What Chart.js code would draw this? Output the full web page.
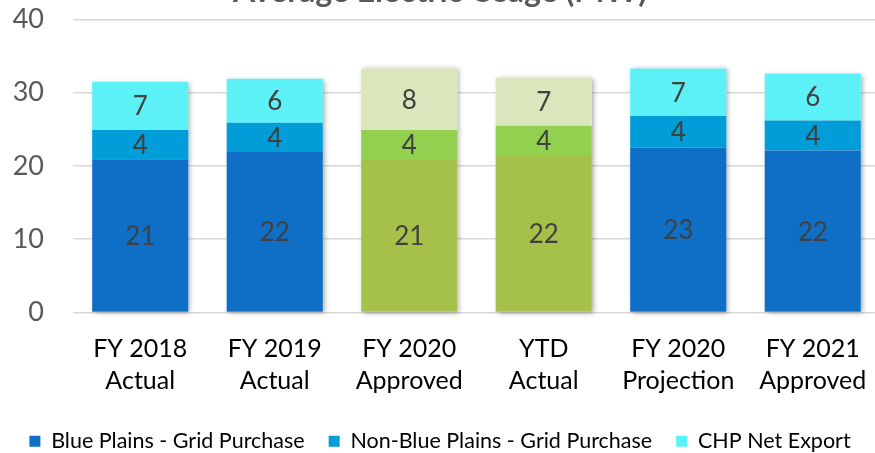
<!DOCTYPE html>
<html>
<head>
<meta charset="utf-8">
<script src="https://cdn.jsdelivr.net/npm/chart.js@4/dist/chart.umd.min.js"></script>
<style>
  html, body { margin: 0; padding: 0; overflow: hidden; background: #fff; }
  #frame { position: relative; width: 880px; height: 453px; overflow: hidden; }
  #holder { position: absolute; left: 0; top: -30px; width: 880px; height: 492px; }
</style>
</head>
<body>
<div id="frame"><div id="holder"><canvas id="usageChart"></canvas></div></div>
<script>
// Chart data
const categories = [
  ['FY 2018', 'Actual'],
  ['FY 2019', 'Actual'],
  ['FY 2020', 'Approved'],
  ['YTD', 'Actual'],
  ['FY 2020', 'Projection'],
  ['FY 2021', 'Approved']
];
const seriesNames = ['Blue Plains - Grid Purchase', 'Non-Blue Plains - Grid Purchase', 'CHP Net Export'];
const bluePlains = [20.9, 21.9, 20.8, 21.5, 22.5, 22.1];
const nonBluePlains = [4.0, 4.0, 4.1, 4.0, 4.3, 4.1];
const chpExport = [6.6, 6.0, 8.4, 6.5, 6.5, 6.4];
const yTicks = [0, 10, 20, 30, 40];

// Colours: blue set for most bars, green set for the budget/YTD bars
const blueSet = ['#0F6FC6', '#009DD9', '#5CF1F6'];
const greenSet = ['#A6C14A', '#92D050', '#DAE6BC'];
const greenBars = [2, 3];

const fontFamily = "'Lato', 'DejaVu Sans', sans-serif";

function barColors(level) {
  return categories.map((c, i) => greenBars.includes(i) ? greenSet[level] : blueSet[level]);
}

// soft shadow behind each whole stack
const stackShadow = {
  id: 'stackShadow',
  beforeDatasetsDraw(chart) {
    const ctx = chart.ctx;
    const bottom = chart.getDatasetMeta(0).data;
    const top = chart.getDatasetMeta(2).data;
    ctx.save();
    ctx.shadowColor = 'rgba(0,0,0,0.35)';
    ctx.shadowBlur = 5;
    ctx.shadowOffsetX = 2;
    ctx.shadowOffsetY = 1;
    ctx.fillStyle = '#ffffff';
    top.forEach((bar, i) => {
      const w = bar.width;
      const y0 = bottom[i].base;
      ctx.fillRect(bar.x - w / 2, bar.y, w, y0 - bar.y);
    });
    ctx.restore();
  }
};

// value labels centred in each segment
const segmentLabels = {
  id: 'segmentLabels',
  afterDatasetsDraw(chart) {
    const ctx = chart.ctx;
    ctx.save();
    ctx.font = '26px ' + fontFamily;
    ctx.fillStyle = '#404040';
    ctx.textAlign = 'center';
    ctx.textBaseline = 'middle';
    chart.data.datasets.forEach((ds, d) => {
      chart.getDatasetMeta(d).data.forEach((bar, i) => {
        const cy = (bar.y + bar.base) / 2;
        ctx.fillText(String(Math.round(ds.data[i])), bar.x, cy + 1);
      });
    });
    ctx.restore();
  }
};

function buildChart() {
  const ctx = document.getElementById('usageChart').getContext('2d');
  const series = [bluePlains, nonBluePlains, chpExport];

  new Chart(ctx, {
    type: 'bar',
    data: {
      labels: categories,
      datasets: series.map((values, k) => ({
        label: seriesNames[k],
        data: values,
        backgroundColor: barColors(k),
        borderWidth: 0,
        barPercentage: 0.715,
        categoryPercentage: 1.0
      }))
    },
    options: {
      responsive: true,
      maintainAspectRatio: false,
      animation: false,
      layout: { padding: 0 },
      scales: {
        x: {
          stacked: true,
          grid: { display: false },
          border: { display: false },
          ticks: {
            color: '#000000',
            font: { family: fontFamily, size: 25, lineHeight: 1.3 },
            padding: 12,
            maxRotation: 0,
            autoSkip: false
          },
          afterFit(axis) {
            // no extra side padding for the first/last labels, tighter gap to legend
            axis.paddingLeft = 0;
            axis.paddingRight = 0;
            axis.height -= 3;
          }
        },
        y: {
          stacked: true,
          min: yTicks[0],
          max: yTicks[yTicks.length - 1],
          afterBuildTicks(axis) {
            axis.ticks = yTicks.map(v => ({ value: v }));
          },
          afterFit(axis) {
            axis.width = 73;
          },
          grid: { color: '#D9D9D9', lineWidth: 1.5, drawTicks: false },
          border: { display: false },
          ticks: {
            color: '#595959',
            font: { family: fontFamily, size: 27 },
            padding: 29
          }
        }
      },
      plugins: {
        title: {
          display: true,
          text: 'Average Electric Usage (MW)',
          color: '#595959',
          font: { family: fontFamily, size: 32, weight: 'bold' },
          padding: { top: 2, bottom: 9 }
        },
        legend: {
          position: 'bottom',
          labels: {
            boxWidth: 11,
            boxHeight: 11,
            padding: 24,
            color: '#000000',
            font: { family: fontFamily, size: 21.5 }
          }
        },
        tooltip: { enabled: false }
      }
    },
    plugins: [stackShadow, segmentLabels]
  });
}

document.addEventListener('DOMContentLoaded', buildChart);
</script>
</body>
</html>
